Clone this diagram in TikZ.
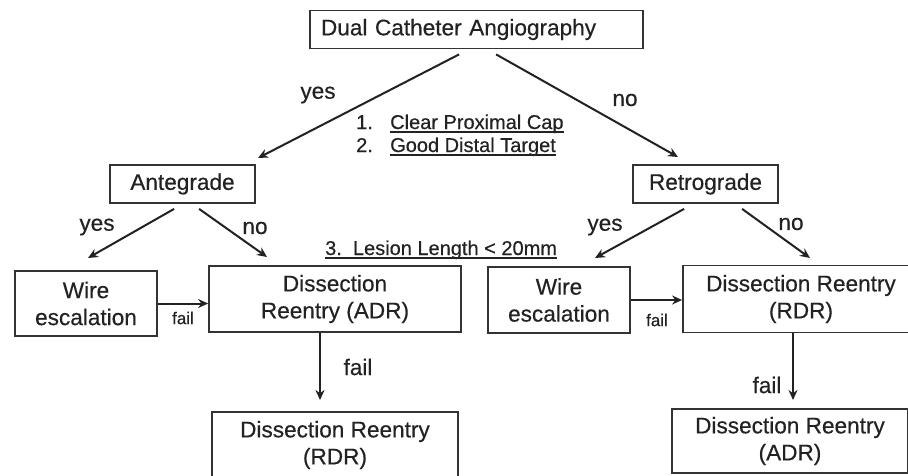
\documentclass[tikz,border=0pt]{standalone}
\usepackage{fontspec}
\setmainfont{Liberation Sans}[FakeBold=0.4]
\usetikzlibrary{arrows.meta,calc}
\newcommand\bigfnt{\fontsize{22.6}{27}\selectfont}
\newcommand\midfnt{\fontsize{20}{23}\selectfont}
\newcommand\smlfnt{\fontsize{17}{18}\selectfont}
\newlength\ulwd
\newcommand\ulx[1]{\settowidth{\ulwd}{#1}\rlap{\rule[-3.6pt]{\ulwd}{1.4pt}}#1}
\definecolor{ink}{HTML}{222222}
\definecolor{edge}{HTML}{333333}
\tikzset{
  box/.style={draw=edge, line width=1.8pt, rectangle, align=center, text=ink, font=\bigfnt, inner sep=0pt},
  arr/.style={draw=ink, line width=2pt, -{Stealth[length=10pt,width=9pt]}},
  lbl/.style={text=ink, font=\bigfnt, inner sep=0pt},
  slbl/.style={text=ink, font=\smlfnt, inner sep=0pt},
  lst/.style={text=ink, font=\midfnt, inner sep=0pt, anchor=base west},
}
\begin{document}
\begin{tikzpicture}[x=1pt,y=-1pt]
\clip (0,0) rectangle (908,475);
\fill[white] (0,0) rectangle (908,475);
% boxes
\node[box, minimum width=333pt, minimum height=38pt, text width=311pt, align=left] (top) at (476.5,29.5) {Dual Catheter Angiography};
\node[box, minimum width=145pt, minimum height=38pt] (ante) at (182.5,184) {Antegrade};
\node[box, minimum width=145pt, minimum height=38pt] (retro) at (705.5,184) {Retrograde};
\node[box, minimum width=142pt, minimum height=65pt] (wireL) at (86,303.5) {Wire\\escalation};
\node[box, minimum width=252pt, minimum height=66pt] (adr) at (335,299) {Dissection\\Reentry (ADR)};
\node[box, minimum width=246pt, minimum height=66pt] (rdrB) at (335,445) {Dissection Reentry\\(RDR)};
\node[box, minimum width=142pt, minimum height=66pt] (wireR) at (559,300) {Wire\\escalation};
\node[box, minimum width=236pt, minimum height=67pt] (rdr) at (801,299) {Dissection Reentry\\(RDR)};
\node[box, minimum width=236pt, minimum height=64pt] (adrB) at (790,441) {Dissection Reentry\\(ADR)};
% free arrow ends
\coordinate (tA) at (258,158);
\coordinate (tR) at (678,157);
\coordinate (tAy) at (88,258);
\coordinate (tAn) at (267,257);
\coordinate (tRy) at (595,258);
\coordinate (tRn) at (810,258);
\coordinate (tAf) at (320,400);
\coordinate (tRf) at (793,400);
% arrows
\draw[arr] ($(top.south west)+(150,5)$) -- (tA);
\draw[arr] ($(top.south west)+(187,5)$) -- (tR);
\draw[arr] ($(ante.south west)+(65,5)$) -- (tAy);
\draw[arr] ($(ante.south west)+(90,5)$) -- (tAn);
\draw[arr] ($(retro.south west)+(52,5)$) -- (tRy);
\draw[arr] ($(retro.south west)+(110,5)$) -- (tRn);
\draw[arr] (wireL.east) -- (wireL.east -| adr.west);
\draw[arr] (wireR.east) -- (wireR.east -| rdr.west);
\draw[arr] (adr.south -| tAf) -- (tAf);
\draw[arr] (rdr.south -| tRf) -- (tRf);
% labels
\node[lbl] (l1) at (318,95) {yes};
\node[lbl] (l2) at (625,100) {no};
\node[lbl] (l3) at (97,227) {yes};
\node[lbl] (l4) at (255,228) {no};
\node[lbl] (l5) at (605,227) {yes};
\node[lbl] (l6) at (791,224) {no};
\node[slbl] (f1) at (183,318) {fail};
\node[slbl] (f2) at (657,320) {fail};
\node[lbl] (f3) at (358,367) {fail};
\node[lbl] (f4) at (767,385) {fail};
% criteria
\node[lst] (n1) at (356,129) {1.};
\node[lst] (c1) at (390,129) {\ulx{Clear Proximal Cap}};
\node[lst] (n2) at (356,152) {2.};
\node[lst] (c2) at (390,152) {\ulx{Good Distal Target}};
\node[lst] (c3) at (325,255) {\ulx{3.\ \ Lesion Length < 20mm}};
\end{tikzpicture}
\end{document}
